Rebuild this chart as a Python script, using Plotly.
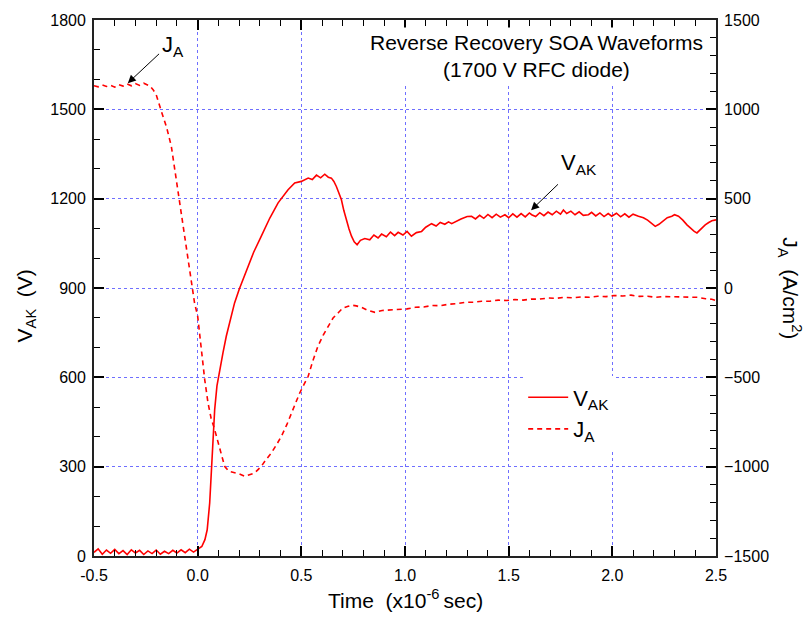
import plotly.graph_objects as go

# ---- Data ----
t_vak = [-0.50, -0.48, -0.46, -0.44, -0.42, -0.40, -0.38, -0.36, -0.34, -0.32, -0.30, -0.28, -0.26,
         -0.24, -0.22, -0.20, -0.18, -0.16, -0.14, -0.12, -0.10, -0.08, -0.06, -0.04, -0.02,
         0.00, 0.02, 0.035, 0.046, 0.058, 0.066, 0.074, 0.082, 0.093, 0.106, 0.122, 0.138, 0.154,
         0.178, 0.20, 0.235, 0.27, 0.307, 0.348, 0.388, 0.436, 0.468, 0.50, 0.533, 0.553, 0.573,
         0.593, 0.613, 0.63, 0.645, 0.657, 0.669, 0.68, 0.693, 0.705, 0.717, 0.73, 0.742, 0.755,
         0.769, 0.785, 0.806, 0.83, 0.85, 0.87, 0.887, 0.91, 0.93, 0.95, 0.967, 0.99, 1.01, 1.031,
         1.055, 1.08, 1.10, 1.128, 1.15, 1.17, 1.192, 1.21, 1.225, 1.249, 1.27, 1.30, 1.321, 1.34,
         1.36, 1.38, 1.40, 1.42, 1.44, 1.46, 1.482, 1.50, 1.52, 1.54, 1.56, 1.58, 1.60, 1.611,
         1.63, 1.65, 1.67, 1.69, 1.71, 1.73, 1.75, 1.764, 1.78, 1.80, 1.82, 1.84, 1.86, 1.885,
         1.90, 1.92, 1.94, 1.96, 1.98, 1.997, 2.02, 2.04, 2.06, 2.08, 2.10, 2.126, 2.15, 2.17,
         2.19, 2.207, 2.225, 2.245, 2.265, 2.287, 2.30, 2.319, 2.34, 2.36, 2.38, 2.395, 2.408,
         2.42, 2.435, 2.448, 2.465, 2.48, 2.50]
v_ak = [12, 24, 6, 20, 9, 22, 8, 18, 5, 21, 10, 19, 5,
        17, 8, 20, 6, 16, 8, 19, 10, 21, 11, 23, 13,
        24, 32, 55, 88, 178, 290, 402, 491, 571, 626, 682, 738, 782,
        850, 895, 956, 1020, 1074, 1135, 1186, 1230, 1253, 1258, 1269, 1264, 1279,
        1270, 1282, 1272, 1269, 1258, 1241, 1222, 1197, 1160, 1129, 1098, 1074, 1055,
        1045, 1060, 1066, 1062, 1078, 1068, 1081, 1072, 1088, 1076, 1087, 1078, 1090, 1074,
        1086, 1090, 1104, 1116, 1108, 1120, 1114, 1122, 1116, 1126, 1132, 1140, 1141, 1132,
        1144, 1134, 1147, 1136, 1148, 1138, 1146, 1136, 1149, 1138, 1150, 1139, 1152, 1146,
        1140, 1153, 1143, 1155, 1146, 1158, 1148, 1162, 1150, 1158, 1146, 1156, 1144, 1146,
        1154, 1142, 1152, 1140, 1150, 1141, 1151, 1139, 1149, 1138, 1148, 1141, 1136, 1128,
        1115, 1107, 1114, 1126, 1136, 1141, 1146, 1141, 1128, 1112, 1098, 1090, 1085,
        1094, 1104, 1112, 1120, 1126, 1129]

t_ja = [-0.50, -0.48, -0.46, -0.44, -0.42, -0.40, -0.38, -0.36, -0.34, -0.32, -0.30, -0.28,
        -0.26, -0.24, -0.23, -0.215, -0.20, -0.177, -0.15, -0.127, -0.088, -0.06, -0.03, -0.015,
        0.0, 0.018, 0.034, 0.05, 0.065, 0.082, 0.095, 0.106, 0.118, 0.13, 0.15, 0.165, 0.178,
        0.20, 0.227, 0.25, 0.275, 0.29, 0.307, 0.33, 0.355, 0.38, 0.404, 0.43, 0.452, 0.475,
        0.492, 0.513, 0.533, 0.555, 0.58, 0.605, 0.63, 0.653, 0.677, 0.70, 0.726, 0.745, 0.765,
        0.79, 0.82, 0.855, 0.89, 0.93, 0.97, 1.01, 1.05, 1.09, 1.13, 1.17, 1.21, 1.25, 1.29,
        1.33, 1.37, 1.41, 1.45, 1.49, 1.53, 1.57, 1.61, 1.65, 1.69, 1.73, 1.77, 1.81, 1.85,
        1.89, 1.93, 1.97, 2.01, 2.05, 2.09, 2.13, 2.17, 2.21, 2.25, 2.29, 2.33, 2.37, 2.41,
        2.45, 2.48, 2.50]
j_a = [1132, 1126, 1136, 1128, 1134, 1124, 1138, 1130, 1142, 1132, 1144, 1134,
       1146, 1138, 1130, 1110, 1082, 996, 900, 793, 494, 270, 30, -84,
       -157, -364, -513, -644, -730, -793, -850, -905, -960, -998, -1026, -1030, -1035,
       -1040, -1054, -1045, -1035, -1018, -998, -960, -924, -878, -830, -765, -700, -640,
       -588, -540, -494, -410, -326, -265, -214, -168, -140, -112, -102, -96, -100,
       -108, -125, -136, -126, -124, -118, -117, -108, -106, -98, -99, -91, -88, -80,
       -80, -74, -74, -68, -70, -65, -68, -62, -62, -56, -58, -52, -55, -50,
       -52, -46, -48, -42, -45, -40, -47, -46, -52, -48, -50, -48, -54, -52,
       -60, -63, -70]

x_tickvals = [-0.5, 0.0, 0.5, 1.0, 1.5, 2.0, 2.5]
x_ticktext = ["-0.5", "0.0", "0.5", "1.0", "1.5", "2.0", "2.5"]
y_tickvals = [0, 300, 600, 900, 1200, 1500, 1800]
y2_tickvals = [-1500, -1000, -500, 0, 500, 1000, 1500]

FONT = "Liberation Sans, Arial, sans-serif"
RED = "#ff0000"
GRID = "#6f6fff"

fig = go.Figure()
fig.add_trace(go.Scatter(x=t_vak, y=v_ak, mode="lines", name="V<sub>AK</sub>",
                         line=dict(color=RED, width=1.6)))
fig.add_trace(go.Scatter(x=t_ja, y=j_a, mode="lines", name="J<sub>A</sub>", yaxis="y2",
                         line=dict(color=RED, width=1.6, dash="5px,4px")))

axis_common = dict(showline=True, linecolor="#222222", linewidth=1.8, ticks="inside",
                   ticklen=10, tickwidth=1.5, tickcolor="black", zeroline=False,
                   tickfont=dict(family=FONT, size=16, color="black"))

fig.update_layout(
    width=811, height=617,
    margin=dict(l=94, r=95, t=16, b=61),
    paper_bgcolor="white", plot_bgcolor="white",
    font=dict(family=FONT, color="black"),
    showlegend=True,
    legend=dict(x=0.69, y=0.335, xanchor="left", yanchor="top", bgcolor="white",
                font=dict(family=FONT, size=22, color="black"), tracegroupgap=0,
                itemwidth=40),
    xaxis=dict(range=[-0.5, 2.5], tickvals=x_tickvals, ticktext=x_ticktext,
               mirror="ticks", showgrid=True, gridcolor=GRID, griddash="dot", gridwidth=1,
               ticklabelstandoff=4,
               minor=dict(dtick=0.1, ticks="inside", ticklen=6, tickcolor="black", tickwidth=1.2,
                          showgrid=False),
               **axis_common),
    yaxis=dict(range=[0, 1800], tickvals=y_tickvals, showgrid=True, gridcolor=GRID,
               griddash="dot", gridwidth=1, ticklabelstandoff=3,
               minor=dict(dtick=100, ticks="inside", ticklen=6, tickcolor="black", tickwidth=1.2,
                          showgrid=False),
               **axis_common),
    yaxis2=dict(range=[-1500, 1500], tickvals=y2_tickvals, overlaying="y", side="right",
                showgrid=False, ticklabelstandoff=3,
                minor=dict(dtick=100, ticks="inside", ticklen=6, tickcolor="black", tickwidth=1.2,
                           showgrid=False),
                **axis_common),
)

annotations = [
    # chart title box
    dict(xref="paper", yref="paper", x=0.712, y=0.932, xanchor="center", yanchor="middle",
         text="Reverse Recovery SOA Waveforms<br>(1700 V RFC diode)", showarrow=False,
         bgcolor="white", font=dict(family=FONT, size=21, color="black"), borderpad=3),
    # axis titles
    dict(xref="paper", yref="paper", x=0.5, y=-0.08, xanchor="center", yanchor="middle",
         text="Time  (x10<sup>-6 </sup>sec)", showarrow=False,
         font=dict(family=FONT, size=21, color="black")),
    dict(xref="paper", yref="paper", x=-0.109, y=0.466, xanchor="center", yanchor="middle",
         text="V<sub>AK</sub>  (V)", textangle=-90, showarrow=False,
         font=dict(family=FONT, size=21, color="black")),
    dict(xref="paper", yref="paper", x=1.12, y=0.50, xanchor="center", yanchor="middle",
         text="J<sub>A</sub>  (A/cm<sup>2</sup>)", textangle=90, showarrow=False,
         font=dict(family=FONT, size=21, color="black")),
    # curve labels
    dict(xref="x", yref="y", x=-0.12, y=1713, text="J<sub>A</sub>", showarrow=False,
         font=dict(family=FONT, size=22, color="black")),
    dict(xref="x", yref="y", x=1.84, y=1318, text="V<sub>AK</sub>", showarrow=False,
         font=dict(family=FONT, size=22, color="black")),
    # arrows
    dict(xref="x", yref="y", x=-0.337, y=1588, axref="x", ayref="y", ax=-0.179, ay=1691,
         text="", showarrow=True, arrowhead=2, arrowsize=1.6, arrowwidth=1, arrowcolor="black"),
    dict(xref="x", yref="y", x=1.608, y=1161, axref="x", ayref="y", ax=1.745, ay=1253,
         text="", showarrow=True, arrowhead=2, arrowsize=1.6, arrowwidth=1, arrowcolor="black"),
]
fig.update_layout(annotations=annotations)

fig.write_html("out.html")
